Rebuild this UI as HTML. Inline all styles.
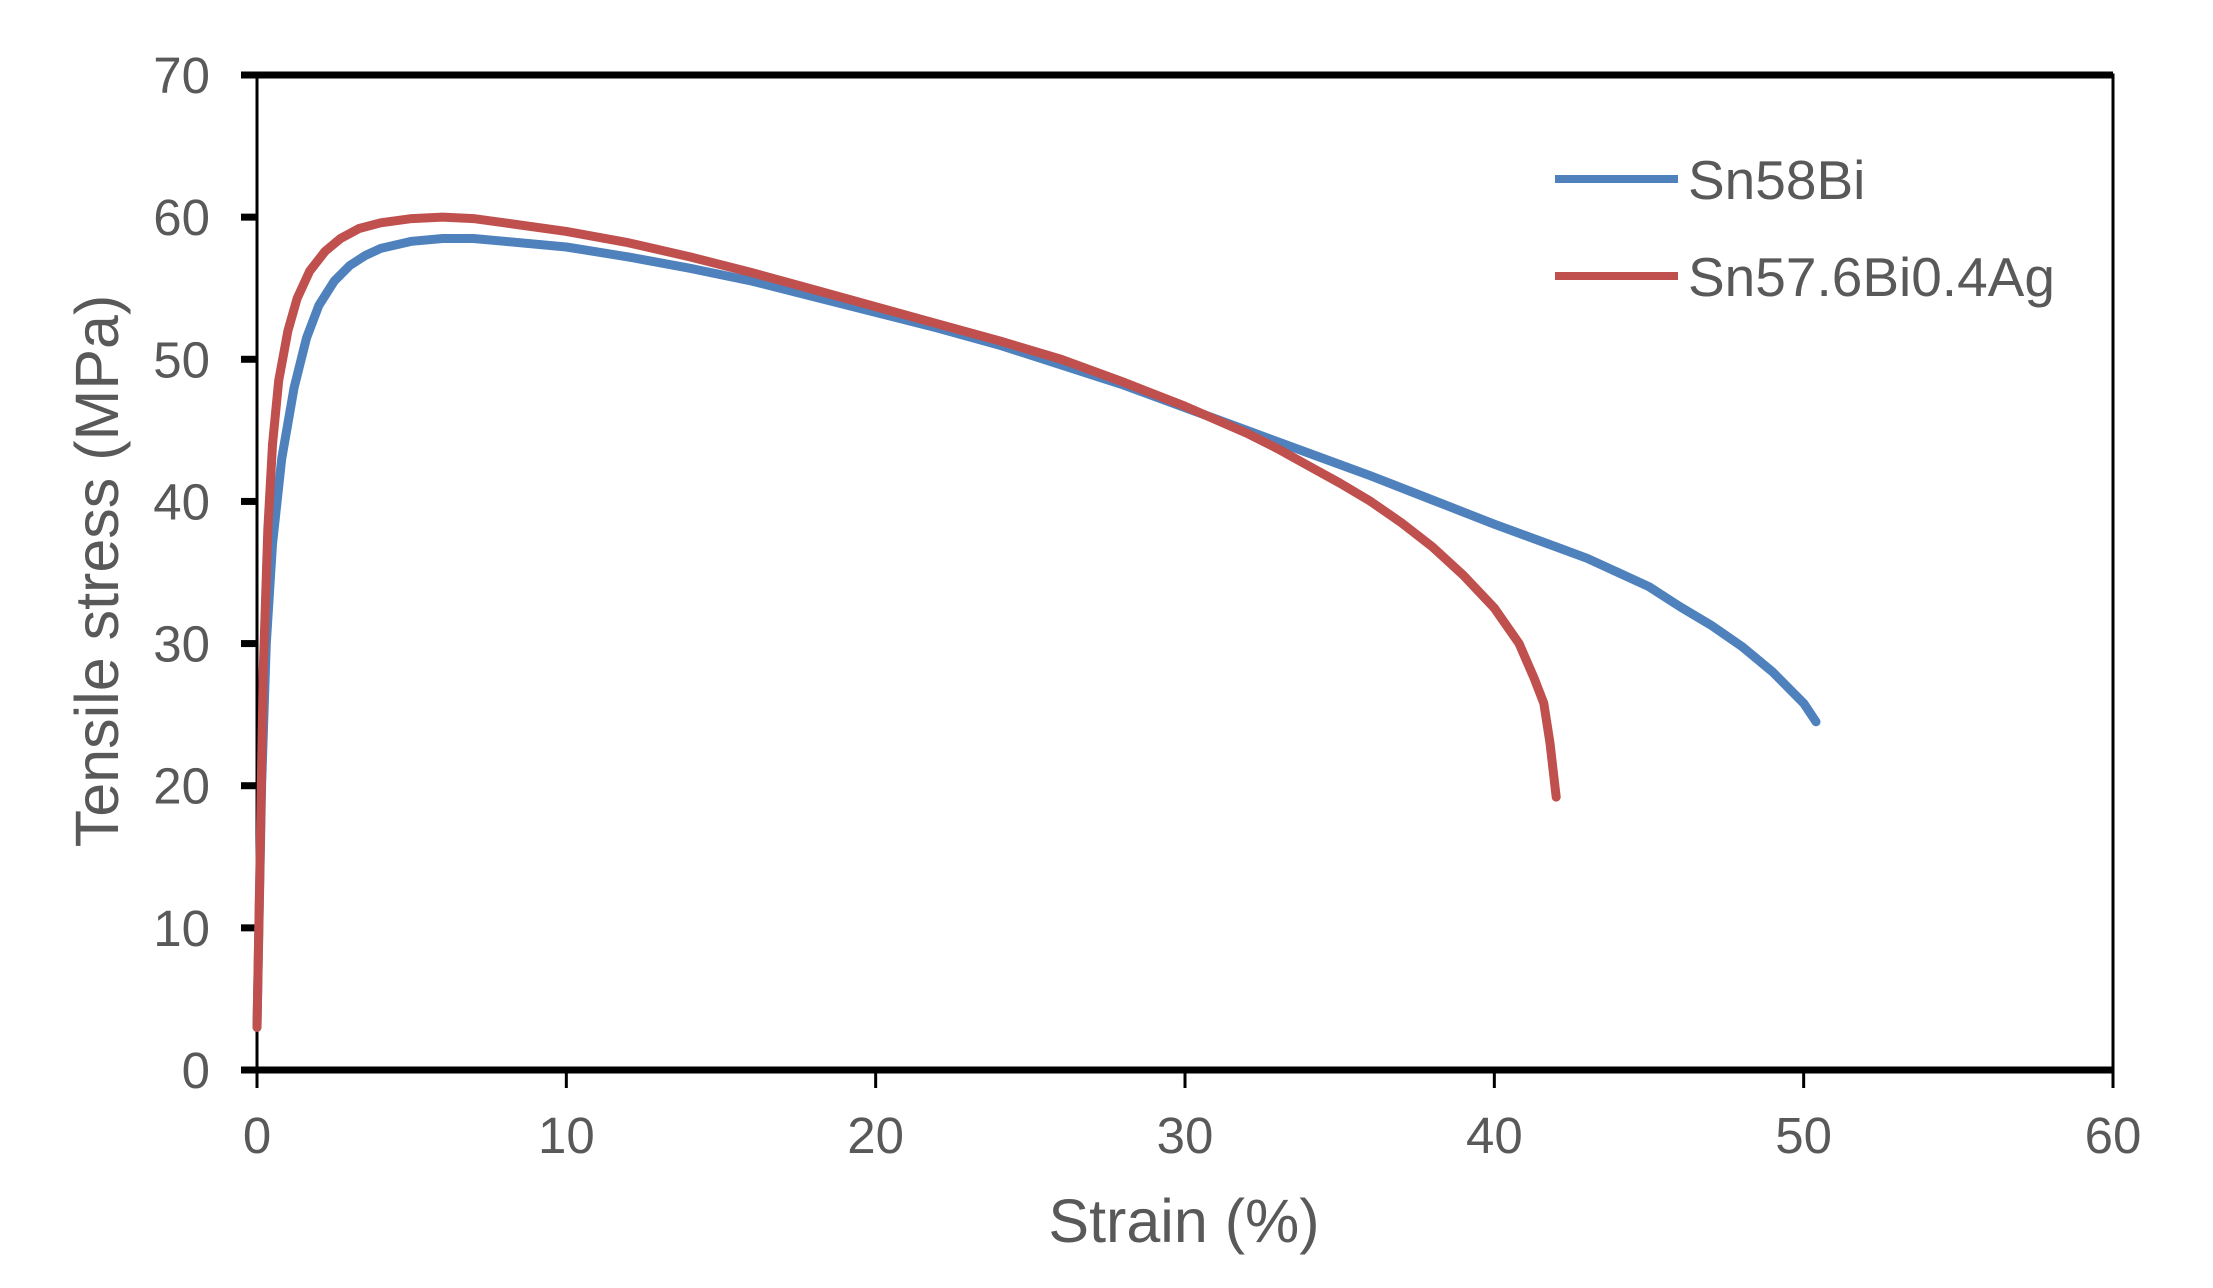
<!DOCTYPE html>
<html><head><meta charset="utf-8"><style>
html,body{margin:0;padding:0;background:#fff}
svg{display:block}
text{font-family:"Liberation Sans",Arial,sans-serif;fill:#595959}
</style></head><body>
<svg id="chart" width="2213" height="1288" viewBox="0 0 2213 1288" xmlns="http://www.w3.org/2000/svg">
<g id="axes"></g>
<g id="series"></g>
<g id="legend"></g>
<text x="1184" y="1242" font-size="61" text-anchor="middle">Strain (%)</text>
<text transform="translate(118,571) rotate(-90)" font-size="61" text-anchor="middle">Tensile stress (MPa)</text>
</svg>
<script>
const xTicks=[0,10,20,30,40,50,60];
const yTicks=[0,10,20,30,40,50,60,70];
const seriesNames=["Sn58Bi","Sn57.6Bi0.4Ag"];
const blueStrain=[0,0.15,0.3,0.5,0.8,1.2,1.6,2,2.5,3,3.5,4,5,6,7,8,10,12,14,16,18,20,22,24,26,28,30,32,34,36,38,40,42,43,44,45,46,47,48,49,50,50.4];
const blueStress=[3,20,30,37,43,48,51.5,53.8,55.5,56.6,57.3,57.8,58.3,58.5,58.5,58.3,57.9,57.2,56.4,55.5,54.4,53.3,52.2,51.0,49.6,48.2,46.6,45.0,43.4,41.8,40.1,38.4,36.8,36,35,34,32.6,31.3,29.8,28,25.8,24.5];
const redStrain=[0,0.1,0.2,0.35,0.5,0.7,1,1.3,1.7,2.2,2.7,3.3,4,5,6,7,8,10,12,14,16,18,20,22,24,26,28,30,32,33,34,35,36,37,38,39,40,40.8,41.3,41.6,41.8,42];
const redStress=[3,15,28,38,44,48.5,52,54.3,56.2,57.6,58.5,59.2,59.6,59.9,60,59.9,59.6,59,58.2,57.2,56.1,54.9,53.7,52.5,51.3,50,48.4,46.7,44.8,43.7,42.5,41.3,40,38.5,36.8,34.8,32.5,30,27.5,25.8,23,19.2];
const colors=["#4f81bd","#c0504d"];
const X0=257,X1=2113,Y0=1070,Y1=75;
const sx=v=>X0+(v-0)/(60-0)*(X1-X0);
const sy=v=>Y0-(v-0)/(70-0)*(Y0-Y1);
const NS="http://www.w3.org/2000/svg";
function mk(tag,attrs,parent){const e=document.createElementNS(NS,tag);for(const k in attrs)e.setAttribute(k,attrs[k]);parent.appendChild(e);return e;}
const axes=document.getElementById('axes');
let e;
e=mk('rect',{x:X0,y:Y1,width:X1-X0,height:Y0-Y1,fill:'none',stroke:'#000','stroke-width':3},axes);


e=mk('line',{x1:X0-14,y1:Y0,x2:X1,y2:Y0,stroke:'#000','stroke-width':7},axes);


e=mk('line',{x1:X0-14,y1:Y1,x2:X1,y2:Y1,stroke:'#000','stroke-width':7},axes);


xTicks.forEach(t=>{
  e=mk('line',{x1:sx(t),y1:Y0,x2:sx(t),y2:Y0+18,stroke:'#000','stroke-width':3},axes);
  
  
  e=mk('text',{x:sx(t),y:1153,'font-size':51,'text-anchor':'middle'},axes);e.textContent=t;
  
  
});
yTicks.forEach(t=>{
  e=mk('line',{x1:X0-16,y1:sy(t),x2:X0,y2:sy(t),stroke:'#000','stroke-width':7},axes);
  
  
  e=mk('text',{x:210,y:sy(t)+18,'font-size':51,'text-anchor':'end'},axes);e.textContent=t;
  
  
});
const ser=document.getElementById('series');
[[blueStrain,blueStress],[redStrain,redStress]].forEach((s,i)=>{
  const d=s[0].map((x,j)=>(j?'L':'M')+sx(x).toFixed(1)+','+sy(s[1][j]).toFixed(1)).join(' ');
  e=mk('path',{d:d,fill:'none',stroke:colors[i],'stroke-width':9,'stroke-linejoin':'round','stroke-linecap':'round'},ser);
  
  
});
const leg=document.getElementById('legend');
[179,276].forEach((y,i)=>{
  e=mk('line',{x1:1555,y1:y,x2:1678,y2:y,stroke:colors[i],'stroke-width':8},leg);
  
  
  e=mk('text',{x:1688,y:y+20,'font-size':55},leg);e.textContent=seriesNames[i];
  
  
});
</script>
</body></html>
